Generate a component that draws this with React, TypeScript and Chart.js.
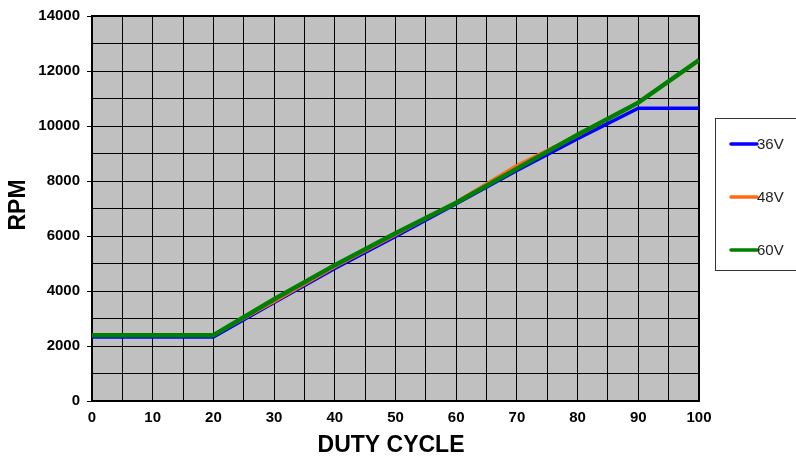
import React, { useEffect, useRef } from "react";
import { Chart, registerables } from "chart.js";

Chart.register(...registerables);

const dutyCycle = [0, 10, 20, 30, 40, 50, 60, 70, 80, 90, 100];
const rpm36V = [2330, 2330, 2330, 3580, 4820, 5980, 7170, 8380, 9540, 10650, 10650];
const rpm48V = [2400, 2400, 2400, 3620, 4880, 6050, 7230, 8560, 9660, 10850, 12380];
const rpm60V = [2390, 2390, 2390, 3700, 4940, 6100, 7210, 8450, 9680, 10850, 12400];
const seriesLabels = ["36V", "48V", "60V"];
const seriesColors = ["#0000ff", "#ff6a13", "#008000"];
const xTitle = "DUTY CYCLE";
const yTitle = "RPM";

const FONT = "'Liberation Sans', Arial, sans-serif";

const decorPlugin = {
  id: "decor",
  beforeDraw(chart: any) {
    const { ctx, chartArea: a } = chart;
    ctx.save();
    ctx.fillStyle = "#c0c0c0";
    ctx.fillRect(a.left, a.top, a.right - a.left, a.bottom - a.top);
    ctx.restore();
  },
  beforeDatasetsDraw(chart: any) {
    const { ctx, chartArea: a } = chart;
    ctx.save();
    ctx.strokeStyle = "#000";
    ctx.lineWidth = 2;
    ctx.strokeRect(a.left, a.top, a.right - a.left, a.bottom - a.top);
    ctx.restore();
  },
  afterDraw(chart: any) {
    const { ctx } = chart;
    ctx.save();
    ctx.fillStyle = "#000";
    ctx.font = `bold 23px ${FONT}`;
    ctx.textAlign = "center";
    ctx.textBaseline = "middle";
    ctx.fillText(xTitle, 391, 446);
    ctx.translate(19, 205);
    ctx.rotate(-Math.PI / 2);
    ctx.fillText(yTitle, 0, 0);
    ctx.restore();

    // legend box
    ctx.save();
    ctx.strokeStyle = "#333";
    ctx.lineWidth = 1;
    ctx.strokeRect(715.5, 118.5, 100, 152);
    const ys = [144, 197, 250];
    chart.data.datasets.forEach((ds: any, i: number) => {
      ctx.strokeStyle = ds.borderColor;
      ctx.lineWidth = 3.5;
      ctx.lineCap = "round";
      ctx.beginPath();
      ctx.moveTo(731, ys[i]);
      ctx.lineTo(757, ys[i]);
      ctx.stroke();
      ctx.fillStyle = "#222";
      ctx.font = `15px ${FONT}`;
      ctx.textAlign = "left";
      ctx.textBaseline = "middle";
      ctx.fillText(ds.label, 757, ys[i] + 1);
    });
    ctx.restore();
  },
};

export default function App() {
  const ref = useRef<HTMLCanvasElement>(null);
  useEffect(() => {
    const series = [rpm36V, rpm48V, rpm60V];
    const widths = [3.5, 3.5, 4.5];
    const chart = new Chart(ref.current as HTMLCanvasElement, {
      type: "line",
      data: {
        datasets: series.map((s, i) => ({
          label: seriesLabels[i],
          data: dutyCycle.map((x, j) => ({ x, y: s[j] })),
          borderColor: seriesColors[i],
          backgroundColor: seriesColors[i],
          borderWidth: widths[i],
          pointRadius: 0,
          tension: 0,
          fill: false,
          order: series.length - i,
        })),
      },
      options: {
        responsive: false,
        animation: false,
        devicePixelRatio: 1,
        layout: { padding: { top: 15, right: 97, left: 0, bottom: 0 } },
        plugins: { legend: { display: false }, tooltip: { enabled: false } },
        scales: {
          x: {
            type: "linear",
            min: 0,
            max: 100,
            afterFit(scale: any) {
              scale.height = 60;
            },
            border: { display: false },
            grid: { color: "#000", lineWidth: 1, drawTicks: false },
            ticks: {
              stepSize: 5,
              autoSkip: false,
              maxRotation: 0,
              padding: 8,
              color: "#000",
              font: { family: FONT, size: 15, weight: "bold" },
              callback: (v: any) => (Number(v) % 10 === 0 ? String(v) : ""),
            },
          },
          y: {
            type: "linear",
            min: 0,
            max: 14000,
            afterFit(scale: any) {
              scale.width = 92;
            },
            border: { display: false },
            grid: {
              color: "#000",
              lineWidth: 1,
              drawTicks: true,
              tickLength: 5,
              tickColor: (c: any) =>
                c.tick && c.tick.value % 2000 === 0 ? "#000" : "rgba(0,0,0,0)",
            },
            ticks: {
              stepSize: 1000,
              autoSkip: false,
              padding: 7,
              color: "#000",
              font: { family: FONT, size: 15, weight: "bold" },
              callback: (v: any) => (Number(v) % 2000 === 0 ? String(v) : ""),
            },
          },
        },
      } as any,
      plugins: [decorPlugin],
    });
    return () => chart.destroy();
  }, []);
  return (
    <div style={{ position: "fixed", left: 0, top: 0, width: 796, height: 461, background: "#fff" }}>
      <canvas ref={ref} width={796} height={461} />
    </div>
  );
}
